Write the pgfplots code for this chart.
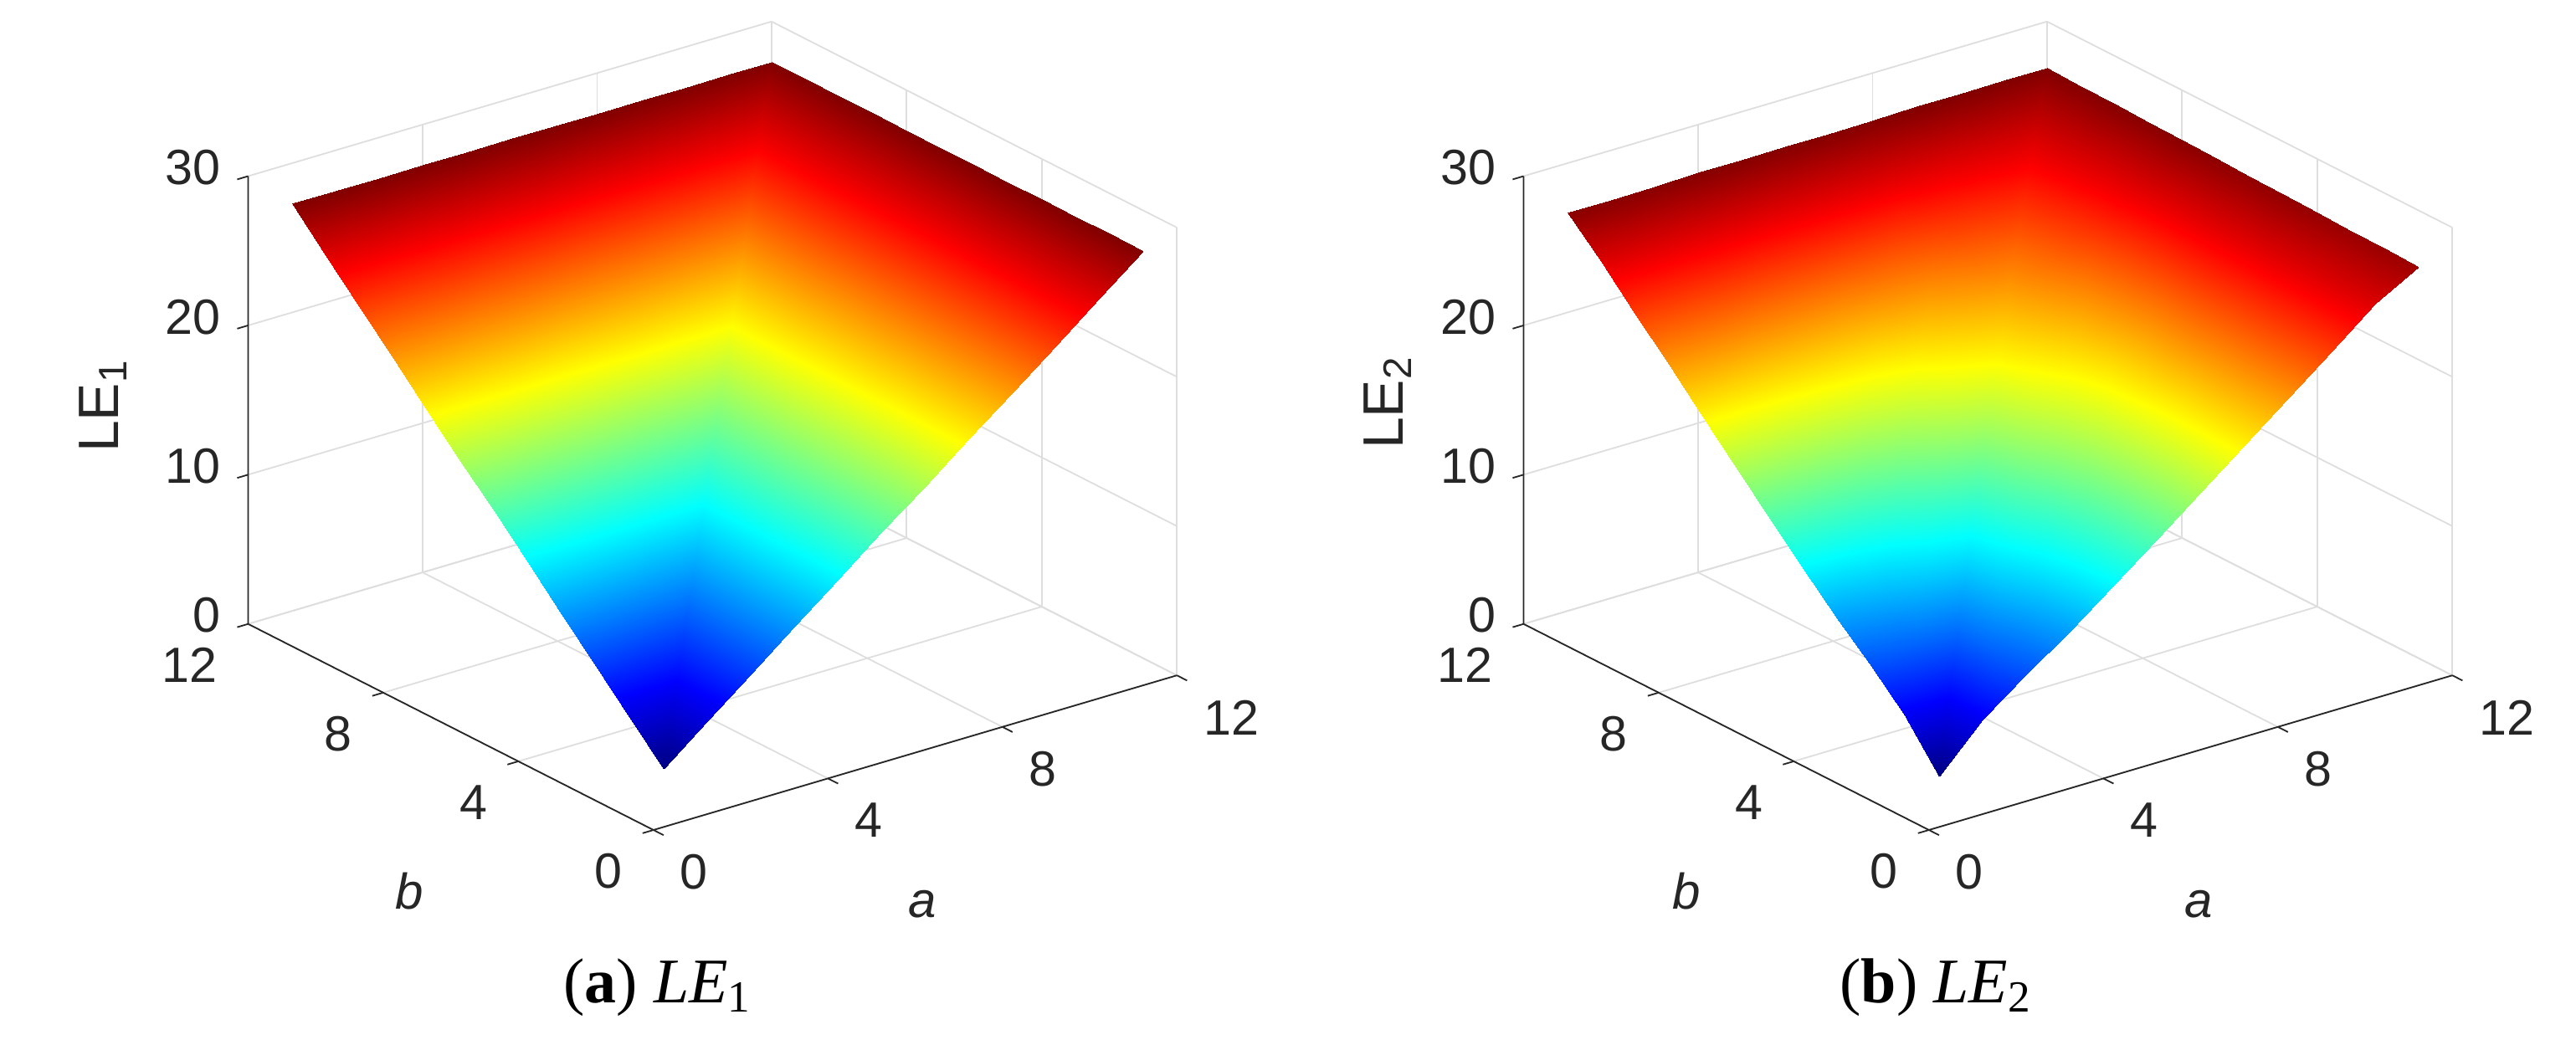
\documentclass[border=0pt]{standalone}
\usepackage{fontspec}
\setmainfont{Liberation Sans}
\newfontfamily\capfont{Liberation Serif}
\usepackage{pgfplots}
\pgfplotsset{compat=1.18}
\definecolor{matax}{gray}{0.15}
\definecolor{matgrid}{gray}{0.87}
\pgfplotsset{matlab3d/.style={
  x={(13.03pt,3.85pt)}, y={(-10.09pt,5.13pt)}, z={(0pt,4.46pt)},
  anchor=origin, clip=false,
  xmin=0,xmax=12,ymin=0,ymax=12,zmin=0,zmax=30,
  xtick={0,4,8,12}, ytick={0,4,8,12}, ztick={0,10,20,30},
  grid=major, major grid style={matgrid,line width=0.45pt},
  axis line style={draw=none},
  tick style={draw=none},
  tick align=outside, major tick length=0pt,
  xticklabel pos=lower, yticklabel pos=lower, zticklabel pos=left,
  /pgf/number format/assume math mode=true,
  ticklabel style={font=\fontsize{14.8}{16}\selectfont, text=matax, inner sep=0pt, outer sep=0pt},
  xticklabel style={anchor=west, xshift=8pt, yshift=-12.55pt},
  yticklabel style={anchor=east, xshift=-9.3pt, yshift=-12.2pt},
  zticklabel style={anchor=east, xshift=-8.35pt, yshift=2.55pt},
  z buffer=none,
  colormap/jet,
}}
\newcommand\matframe{%
\draw[matax,line width=0.45pt] (axis cs:0,12,30)--(axis cs:0,12,0)--(axis cs:0,0,0)--(axis cs:12,0,0);
\draw[matax,line width=0.45pt]
 (axis cs:0,0,0)--(axis cs:0,-0.3,0) (axis cs:4,0,0)--(axis cs:4,-0.3,0) (axis cs:8,0,0)--(axis cs:8,-0.3,0) (axis cs:12,0,0)--(axis cs:12,-0.3,0)
 (axis cs:0,0,0)--(axis cs:-0.25,0,0) (axis cs:0,4,0)--(axis cs:-0.25,4,0) (axis cs:0,8,0)--(axis cs:-0.25,8,0) (axis cs:0,12,0)--(axis cs:-0.25,12,0)
 (axis cs:0,12,0)--(axis cs:-0.25,12,0) (axis cs:0,12,10)--(axis cs:-0.25,12,10) (axis cs:0,12,20)--(axis cs:-0.25,12,20) (axis cs:0,12,30)--(axis cs:-0.25,12,30);
}
\begin{document}
\begin{tikzpicture}
\path[use as bounding box] (0,0) rectangle (769.5pt,310.75pt);
\begin{axis}[matlab3d, at={(195.2pt,62.75pt)}]
\addplot3[surf, shader=interp, mesh/rows=12, mesh/cols=12, point meta min=2.1, point meta max=27.3] coordinates {
(1,12,27.3) (2,12,27.3) (3,12,27.3) (4,12,27.3) (5,12,27.3) (6,12,27.3) (7,12,27.3) (8,12,27.3) (9,12,27.3) (10,12,27.3) (11,12,27.3) (12,12,27.3)
(1,11,25.0) (2,11,25.0) (3,11,25.0) (4,11,25.0) (5,11,25.0) (6,11,25.0) (7,11,25.0) (8,11,25.0) (9,11,25.0) (10,11,25.0) (11,11,25.0) (12,11,27.3)
(1,10,22.7) (2,10,22.7) (3,10,22.7) (4,10,22.7) (5,10,22.7) (6,10,22.7) (7,10,22.7) (8,10,22.7) (9,10,22.7) (10,10,22.7) (11,10,25.0) (12,10,27.3)
(1,9,20.4) (2,9,20.4) (3,9,20.4) (4,9,20.4) (5,9,20.4) (6,9,20.4) (7,9,20.4) (8,9,20.4) (9,9,20.4) (10,9,22.7) (11,9,25.0) (12,9,27.3)
(1,8,18.1) (2,8,18.1) (3,8,18.1) (4,8,18.1) (5,8,18.1) (6,8,18.1) (7,8,18.1) (8,8,18.1) (9,8,20.4) (10,8,22.7) (11,8,25.0) (12,8,27.3)
(1,7,15.8) (2,7,15.8) (3,7,15.8) (4,7,15.8) (5,7,15.8) (6,7,15.8) (7,7,15.8) (8,7,18.1) (9,7,20.4) (10,7,22.7) (11,7,25.0) (12,7,27.3)
(1,6,13.6) (2,6,13.6) (3,6,13.6) (4,6,13.6) (5,6,13.6) (6,6,13.6) (7,6,15.8) (8,6,18.1) (9,6,20.4) (10,6,22.7) (11,6,25.0) (12,6,27.3)
(1,5,11.3) (2,5,11.3) (3,5,11.3) (4,5,11.3) (5,5,11.3) (6,5,13.6) (7,5,15.8) (8,5,18.1) (9,5,20.4) (10,5,22.7) (11,5,25.0) (12,5,27.3)
(1,4,9.0) (2,4,9.0) (3,4,9.0) (4,4,9.0) (5,4,11.3) (6,4,13.6) (7,4,15.8) (8,4,18.1) (9,4,20.4) (10,4,22.7) (11,4,25.0) (12,4,27.3)
(1,3,6.7) (2,3,6.7) (3,3,6.7) (4,3,9.0) (5,3,11.3) (6,3,13.6) (7,3,15.8) (8,3,18.1) (9,3,20.4) (10,3,22.7) (11,3,25.0) (12,3,27.3)
(1,2,4.4) (2,2,4.4) (3,2,6.7) (4,2,9.0) (5,2,11.3) (6,2,13.6) (7,2,15.8) (8,2,18.1) (9,2,20.4) (10,2,22.7) (11,2,25.0) (12,2,27.3)
(1,1,2.1) (2,1,4.4) (3,1,6.7) (4,1,9.0) (5,1,11.3) (6,1,13.6) (7,1,15.8) (8,1,18.1) (9,1,20.4) (10,1,22.7) (11,1,25.0) (12,1,27.3)
};
\matframe
\end{axis}
\begin{axis}[matlab3d, at={(576.2pt,62.75pt)}]
\addplot3[surf, shader=interp, mesh/rows=12, mesh/cols=12, point meta min=1.6, point meta max=26.9] coordinates {
(1,12,26.7) (2,12,26.7) (3,12,26.7) (4,12,26.8) (5,12,26.8) (6,12,26.8) (7,12,26.8) (8,12,26.8) (9,12,26.9) (10,12,26.9) (11,12,26.9) (12,12,26.9)
(1,11,24.6) (2,11,24.6) (3,11,24.6) (4,11,24.6) (5,11,24.6) (6,11,24.6) (7,11,24.6) (8,11,24.7) (9,11,24.8) (10,11,25.0) (11,11,25.1) (12,11,26.8)
(1,10,22.3) (2,10,22.3) (3,10,22.3) (4,10,22.3) (5,10,22.3) (6,10,22.3) (7,10,22.4) (8,10,22.7) (9,10,23.0) (10,10,23.3) (11,10,25.0) (12,10,26.8)
(1,9,20.0) (2,9,20.0) (3,9,20.0) (4,9,20.0) (5,9,20.0) (6,9,20.2) (7,9,20.5) (8,9,21.1) (9,9,21.5) (10,9,23.0) (11,9,24.8) (12,9,26.7)
(1,8,17.7) (2,8,17.7) (3,8,17.7) (4,8,17.8) (5,8,17.9) (6,8,18.4) (7,8,19.1) (8,8,19.7) (9,8,21.1) (10,8,22.7) (11,8,24.7) (12,8,26.7)
(1,7,15.4) (2,7,15.4) (3,7,15.5) (4,7,15.7) (5,7,16.2) (6,7,17.0) (7,7,17.7) (8,7,19.1) (9,7,20.5) (10,7,22.4) (11,7,24.6) (12,7,26.6)
(1,6,13.1) (2,6,13.2) (3,6,13.4) (4,6,13.9) (5,6,14.7) (6,6,15.4) (7,6,17.0) (8,6,18.4) (9,6,20.2) (10,6,22.3) (11,6,24.6) (12,6,26.5)
(1,5,10.9) (2,5,11.1) (3,5,11.5) (4,5,12.3) (5,5,12.9) (6,5,14.7) (7,5,16.2) (8,5,17.9) (9,5,20.0) (10,5,22.3) (11,5,24.6) (12,5,26.5)
(1,4,8.7) (2,4,9.1) (3,4,9.8) (4,4,10.3) (5,4,12.3) (6,4,13.9) (7,4,15.7) (8,4,17.8) (9,4,20.0) (10,4,22.3) (11,4,24.6) (12,4,26.4)
(1,3,6.7) (2,3,7.2) (3,3,7.6) (4,3,9.8) (5,3,11.5) (6,3,13.4) (7,3,15.5) (8,3,17.7) (9,3,20.0) (10,3,22.3) (11,3,24.6) (12,3,26.3)
(1,2,4.5) (2,2,4.7) (3,2,7.2) (4,2,9.1) (5,2,11.1) (6,2,13.2) (7,2,15.4) (8,2,17.7) (9,2,20.0) (10,2,22.3) (11,2,24.6) (12,2,26.3)
(1,1,1.6) (2,1,4.5) (3,1,6.7) (4,1,8.7) (5,1,10.9) (6,1,13.1) (7,1,15.4) (8,1,17.7) (9,1,20.0) (10,1,22.3) (11,1,24.6) (12,1,26.2)
};
\matframe
\end{axis}
\tikzset{axlab/.style={text=matax, inner sep=0pt, font=\fontsize{17}{18}\selectfont},
 lett/.style={text=matax, inner sep=0pt, font=\fontsize{15}{16}\selectfont\itshape},
 capt/.style={text=black, inner sep=0pt, font=\fontsize{19}{21}\capfont}}
\node[axlab, rotate=90] at (30.75pt,189.5pt) {LE\textsubscript{1}};
\node[axlab, rotate=90] at (414.5pt,190.5pt) {LE\textsubscript{2}};
\node[lett] at (275.5pt,40.5pt) {a};
\node[lett] at (122.25pt,44.5pt) {b};
\node[lett] at (656.75pt,40.5pt) {a};
\node[lett] at (503.75pt,44.5pt) {b};
\node[capt] at (196.5pt,15.75pt) {(\textbf{a}) \textit{LE}\textsubscript{1}};
\node[capt] at (578.25pt,15.75pt) {(\textbf{b}) \textit{LE}\textsubscript{2}};
\end{tikzpicture}
\end{document}
